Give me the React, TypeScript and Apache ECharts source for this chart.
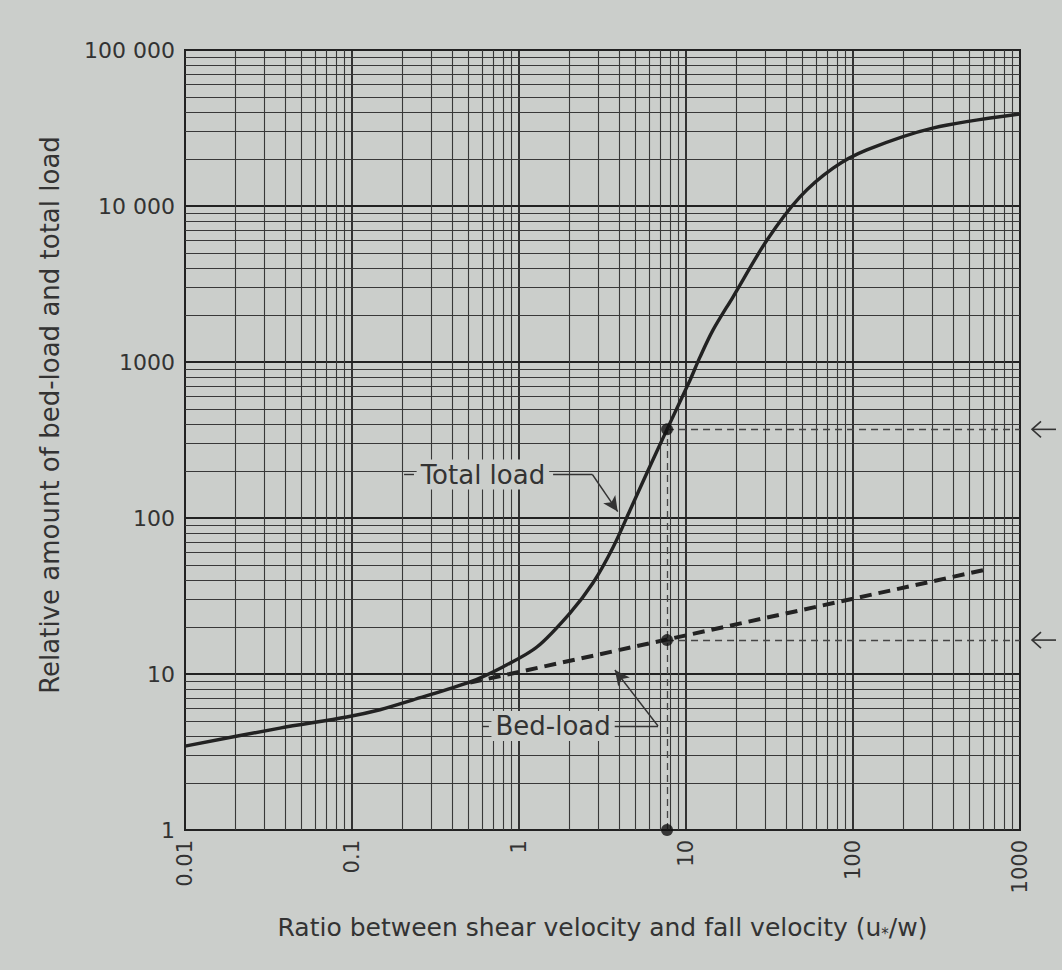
import React, { useEffect, useRef } from "react";
import * as echarts from "echarts";

// ---- data ----
const xTickValues = [0.01, 0.1, 1, 10, 100, 1000];
const xTickLabels = ["0.01", "0.1", "1", "10", "100", "1000"];
const yTickValues = [1, 10, 100, 1000, 10000, 100000];
const yTickLabels = ["1", "10", "100", "1000", "10 000", "100 000"];

const totalLoadX = [0.01, 0.037, 0.093, 0.147, 0.23, 0.51, 0.8, 1.28, 2.02, 2.77, 3.66, 4.62, 5.84, 7.7, 10.6, 12.1, 14.5, 19.1, 30.5, 48, 76, 121, 300, 1000];
const totalLoadY = [3.45, 4.5, 5.3, 5.9, 6.8, 8.9, 11.1, 14.9, 24.6, 38.3, 65, 112, 195, 370, 770, 1070, 1600, 2610, 6030, 11400, 17500, 22900, 31600, 38900];

const bedLoadX = [0.51, 643];
const bedLoadY = [8.8, 47];

const refX = 7.7;
const refTotal = 370;
const refBed = 16.5;
const refBottom = 1;

const minorMultipliers = [2, 3, 4, 5, 6, 7, 8, 9];

const PAPER = "#cbcecb";
const INK = "#222";
const TEXT = "#333";
const FONT = "DejaVu Sans";

function minorLines(decades: number[]) {
  const out: number[] = [];
  decades.forEach((d) => minorMultipliers.forEach((m) => out.push(m * Math.pow(10, d))));
  return out;
}

function labelFor(values: number[], labels: string[], v: number) {
  const e = Math.round(Math.log10(v));
  const idx = values.findIndex((t) => Math.round(Math.log10(t)) === e);
  return idx >= 0 ? labels[idx] : "";
}

export default function App() {
  const ref = useRef<HTMLDivElement>(null);

  useEffect(() => {
    if (!ref.current) return;
    const chart = echarts.init(ref.current, null, { renderer: "svg" });

    const xMinor = minorLines([-2, -1, 0, 1, 2]);
    const yMinor = minorLines([0, 1, 2, 3, 4]);

    const dashRef = { type: [7, 5] as any, width: 1.3, color: "#444" };

    const option: any = {
      animation: false,
      backgroundColor: PAPER,
      textStyle: { fontFamily: FONT },
      grid: {
        left: 185,
        right: 42,
        top: 50,
        bottom: 140,
        show: true,
        borderColor: INK,
        borderWidth: 2,
        backgroundColor: "transparent",
      },
      xAxis: {
        type: "log",
        logBase: 10,
        min: 0.01,
        max: 1000,
        splitNumber: 5,
        name: "Ratio between shear velocity and fall velocity (u{s|*}/w)",
        nameLocation: "middle",
        nameGap: 84,
        nameTextStyle: {
          fontFamily: FONT,
          fontSize: 25,
          color: TEXT,
          rich: {
            s: { fontFamily: FONT, fontSize: 15, color: TEXT, padding: [12, 0, 0, 0] },
          },
        },
        axisLine: { show: true, lineStyle: { color: INK, width: 2 } },
        axisTick: { show: false },
        axisLabel: {
          rotate: 90,
          margin: 10,
          fontFamily: FONT,
          fontSize: 21,
          color: TEXT,
          formatter: (v: number) => labelFor(xTickValues, xTickLabels, v),
        },
        splitLine: { show: true, lineStyle: { color: INK, width: 1.8 } },
      },
      yAxis: {
        type: "log",
        logBase: 10,
        min: 1,
        max: 100000,
        splitNumber: 5,
        name: "Relative amount of bed-load and total load",
        nameLocation: "middle",
        nameGap: 122,
        nameTextStyle: { fontFamily: FONT, fontSize: 26, color: TEXT, padding: [0, 0, 0, 50] },
        axisLine: { show: true, lineStyle: { color: INK, width: 2 } },
        axisTick: { show: false },
        axisLabel: {
          margin: 10,
          fontFamily: FONT,
          fontSize: 22,
          color: TEXT,
          formatter: (v: number) => labelFor(yTickValues, yTickLabels, v),
        },
        splitLine: { show: true, lineStyle: { color: INK, width: 1.8 } },
      },
      series: [
        {
          name: "minor grid",
          type: "line",
          data: [],
          silent: true,
          z: 1,
          markLine: {
            silent: true,
            symbol: ["none", "none"],
            label: { show: false },
            lineStyle: { type: "solid", color: "#383838", width: 1.1 },
            emphasis: { disabled: true },
            data: [
              ...xMinor.map((v) => ({ xAxis: v })),
              ...yMinor.map((v) => ({ yAxis: v })),
            ],
          },
        },
        {
          name: "Total load",
          type: "line",
          data: totalLoadX.map((x, i) => [x, totalLoadY[i]]),
          smooth: 0.3,
          showSymbol: false,
          lineStyle: { color: INK, width: 3.4 },
          z: 6,
        },
        {
          name: "Bed-load",
          type: "line",
          data: bedLoadX.map((x, i) => [x, bedLoadY[i]]),
          showSymbol: false,
          lineStyle: { color: INK, width: 4, type: [12, 7] },
          z: 6,
        },
        {
          name: "reference",
          type: "scatter",
          data: [
            [refX, refTotal],
            [refX, refBed],
            [refX, refBottom],
          ],
          symbolSize: 12,
          clip: false,
          itemStyle: { color: "#111" },
          z: 8,
          markLine: {
            silent: true,
            symbol: ["none", "none"],
            label: { show: false },
            lineStyle: dashRef,
            data: [
              [{ coord: [refX, refBottom] }, { coord: [refX, refTotal] }],
              [{ coord: [refX, refTotal] }, { coord: [1000, refTotal] }],
              [{ coord: [refX, refBed] }, { coord: [1000, refBed] }],
            ],
          },
        },
        {
          name: "annotations",
          type: "line",
          data: [],
          z: 7,
          markPoint: {
            silent: true,
            symbol: "rect",
            symbolSize: 1,
            itemStyle: { color: "transparent" },
            label: {
              show: true,
              position: "inside",
              fontFamily: FONT,
              fontSize: 26,
              color: TEXT,
              backgroundColor: PAPER,
              padding: [2, 4, 2, 4],
            },
            data: [
              { coord: [0.608, 190], value: "Total load", label: { formatter: "Total load" } },
              { coord: [1.6, 4.64], value: "Bed-load", label: { formatter: "Bed-load" } },
            ],
          },
          markLine: {
            silent: true,
            symbol: ["none", "none"],
            symbolSize: [11, 15],
            label: { show: false },
            lineStyle: { type: "solid", color: "#333", width: 1.4 },
            data: [
              [{ coord: [0.205, 190] }, { coord: [0.235, 190] }],
              [{ coord: [1.6, 190] }, { coord: [2.75, 190] }],
              [
                { coord: [2.75, 190], lineStyle: { curveness: -0.35 } },
                { coord: [3.9, 110], symbol: "arrow" },
              ],
              [{ coord: [0.6, 4.64] }, { coord: [0.66, 4.64] }],
              [{ coord: [3.66, 4.64] }, { coord: [6.8, 4.64] }],
              [
                { coord: [6.8, 4.64], lineStyle: { curveness: 0.2 } },
                { coord: [3.75, 10.6], symbol: "arrow" },
              ],
            ],
          },
        },
      ],
    };

    chart.setOption(option);

    const arrow = (y: number) => {
      const x0 = 1032;
      return [
        { type: "line", shape: { x1: x0, y1: y, x2: x0 + 24, y2: y }, style: { stroke: "#333", lineWidth: 1.6 } },
        {
          type: "polyline",
          shape: { points: [[x0 + 9, y - 8], [x0, y], [x0 + 9, y + 8]] },
          style: { stroke: "#333", lineWidth: 1.6, fill: null },
        },
      ];
    };
    const pTotal = chart.convertToPixel({ xAxisIndex: 0, yAxisIndex: 0 }, [1000, refTotal]) as number[];
    const pBed = chart.convertToPixel({ xAxisIndex: 0, yAxisIndex: 0 }, [1000, refBed]) as number[];
    chart.setOption({ graphic: [...arrow(pTotal[1]), ...arrow(pBed[1])] });

    return () => chart.dispose();
  }, []);

  return (
    <div
      ref={ref}
      style={{ position: "fixed", left: 0, top: 0, width: 1062, height: 970, background: PAPER }}
    />
  );
}
